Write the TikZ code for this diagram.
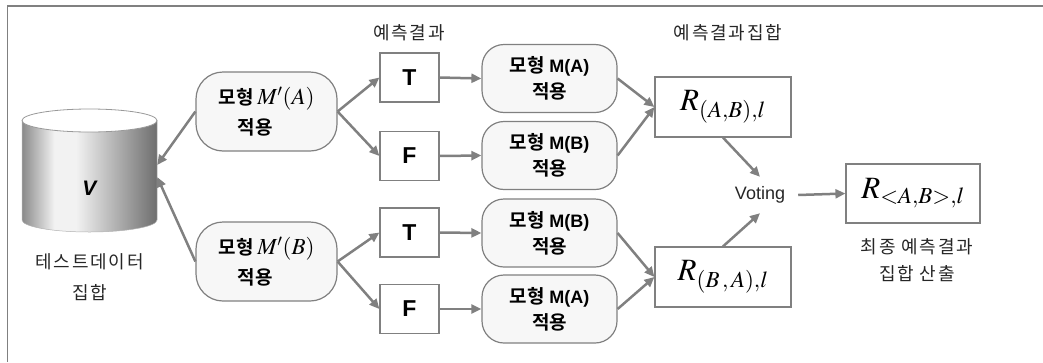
\documentclass[tikz,border=0pt]{standalone}
\usepackage{mathptmx}
\usepackage{fontspec}
\setmainfont{Liberation Sans}
\newfontfamily\kr{Noto Sans CJK KR}[BoldFont={Noto Sans CJK KR Bold}]
\newfontfamily\krl{Noto Sans CJK KR}[LetterSpace=10]
\usetikzlibrary{arrows.meta,calc}
\definecolor{edge}{HTML}{808080}
\definecolor{cylA}{HTML}{8A8A8A}
\definecolor{cylB}{HTML}{F2F2F2}
\definecolor{cylC}{HTML}{6E6E6E}
\definecolor{modelfill}{HTML}{F7F7F7}
\pgfdeclarehorizontalshading{cylshade}{100bp}{color(0bp)=(cylA); color(25bp)=(cylA); color(37bp)=(cylB); color(45bp)=(cylB); color(75bp)=(cylC); color(100bp)=(cylC)}
\tikzset{
  lbl/.style={font=\krl\fontsize{18}{31}\selectfont, text=black!85, align=center, inner sep=0pt},
  rbox/.style={draw=edge, line width=1.2pt, fill=white, minimum width=136pt, minimum height=60pt, inner sep=0pt},
  tfbox/.style={draw=edge, line width=1.2pt, fill=white, minimum width=59pt, minimum height=49pt, inner sep=0pt, font=\bfseries\fontsize{23}{23}\selectfont},
  model/.style={draw=edge, line width=1.2pt, fill=modelfill, rounded corners=22pt, minimum width=135pt, minimum height=68pt, inner sep=0pt, align=center, font=\fontsize{18}{26}\selectfont},
  pmodel/.style={draw=edge, line width=1.2pt, fill=modelfill, rounded corners=27pt, minimum width=141pt, minimum height=79pt, inner sep=0pt, align=left, font=\fontsize{23}{30}\selectfont},
  arr/.style={draw=edge, line width=2.5pt, -{Triangle[length=10pt,width=9pt]}},
}
\newcommand{\kb}[1]{{\kr\bfseries\fontsize{19}{26}\selectfont #1}}
\begin{document}
\begin{tikzpicture}[x=1pt,y=-1pt]
\useasboundingbox (0,0) rectangle (1043,362);
% frame
\draw[edge, line width=1.5pt] (1043,6) -- (7.5,6) -- (7.5,362);
% cylinder
\shade[shading=cylshade, draw=black!30, line width=0.5pt] (22,120.5) -- (22,220) arc[start angle=180, end angle=360, x radius=67.5pt, y radius=12pt] -- (157,120.5) -- cycle;
\draw[draw=black!40, line width=0.8pt, fill=white] (89.5,120.5) ellipse[x radius=67.5pt, y radius=11.5pt];
\node[minimum width=135pt, minimum height=123pt, inner sep=0pt] (cyl) at (89.5,170.5) {};
\node[font=\bfseries\itshape\fontsize{21}{21}\selectfont] (vtext) at (89.5,188) {V};
\node[lbl] (cyllbl) at (89.5,277) {테스트데이터\\집합};
% top labels
\node[lbl] (lblres) at (409,33) {예측결과};
\node[lbl] (lblset) at (728,33) {예측결과집합};
\node[lbl, font=\krl\fontsize{18}{27}\selectfont] (lblfinal) at (917,260) {최종 예측결과\\집합 산출};
% M' boxes
\node[pmodel] (ma) at (266.5,111.5) {\kb{모형}\,$M'(A)$\\\hspace{19pt}\kb{적용}};
\node[pmodel] (mb) at (266.5,261.5) {\kb{모형}\,$M'(B)$\\\hspace{19pt}\kb{적용}};
% T/F boxes
\node[tfbox] (t1) at (409.5,77.5) {T};
\node[tfbox] (f1) at (409.5,156) {F};
\node[tfbox] (t2) at (409.5,232.5) {T};
\node[tfbox] (f2) at (409.5,309) {F};
% model boxes
\node[model] (m1) at (549.5,78.5) {\kb{모형} \textbf{M(A)}\\\kb{적용}};
\node[model] (m2) at (549.5,155.5) {\kb{모형} \textbf{M(B)}\\\kb{적용}};
\node[model] (m3) at (549.5,233) {\kb{모형} \textbf{M(B)}\\\kb{적용}};
\node[model] (m4) at (549.5,309) {\kb{모형} \textbf{M(A)}\\\kb{적용}};
% R boxes
\node[rbox, font=\fontsize{31}{31}\selectfont] (r1) at (723,107) {$R_{(A,B),l}$};
\node[rbox, font=\fontsize{31}{31}\selectfont] (r2) at (723,277) {$R_{(B\,,\,A),l}$};
\node[inner xsep=13pt, minimum height=36pt, font=\fontsize{18}{18}\selectfont, text=black!85] (vote) at (760,195) {Voting};
\node[rbox, minimum width=134pt, minimum height=59pt, font=\fontsize{31}{31}\selectfont] (rf) at (913,193.5) {$R_{<A,B>,l}$};
% arrows
\draw[arr] (ma.west) -- ($(cyl.east)+(0,-5.5)$);
\draw[arr] (mb.west) -- ($(cyl.east)+(0,6.5)$);
\draw[arr] (ma.east) -- (t1.west);
\draw[arr] (ma.east) -- (f1.west);
\draw[arr] (mb.east) -- (t2.west);
\draw[arr] (mb.east) -- (f2.west);
\draw[arr] (t1.east) -- (m1.west);
\draw[arr] (f1.east) -- (m2.west);
\draw[arr] (t2.east) -- (m3.west);
\draw[arr] (f2.east) -- (m4.west);
\draw[arr] (m1.east) -- (r1.west);
\draw[arr] (m2.east) -- (r1.west);
\draw[arr] (m3.east) -- (r2.west);
\draw[arr] (m4.east) -- (r2.west);
\draw[arr] (r1.south) -- (vote.north);
\draw[arr] (r2.north) -- (vote.south);
\draw[arr] (vote.east) -- (rf.west);
\end{tikzpicture}
\end{document}
